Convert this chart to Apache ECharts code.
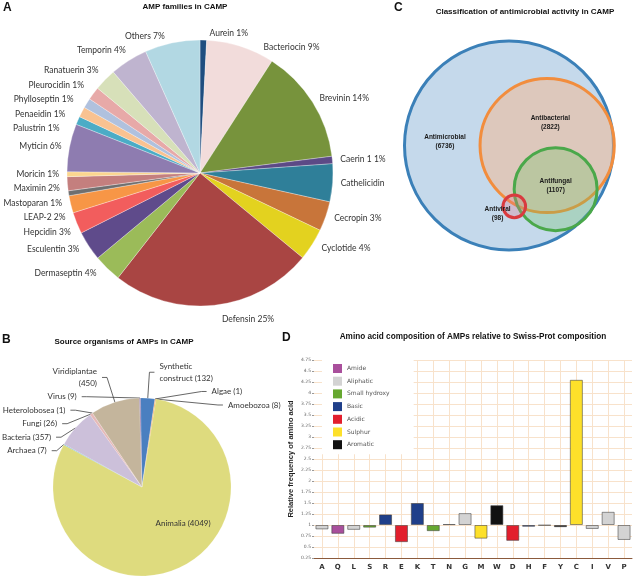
<!DOCTYPE html>
<html><head><meta charset="utf-8">
<script src="https://cdn.jsdelivr.net/npm/echarts@6/dist/echarts.min.js"></script>
<style>html,body{margin:0;padding:0;background:#fff}#c{width:640px;height:579px}</style>
</head><body><div id="c"></div><script>
// ---------- Panel A: AMP families ----------
const famNames = ['Aurein','Bacteriocin','Brevinin','Caerin 1','Cathelicidin','Cecropin','Cyclotide','Defensin','Dermaseptin','Esculentin','Hepcidin','LEAP-2','Mastoparan','Maximin','Moricin','Myticin','Palustrin','Penaeidin','Phylloseptin','Pleurocidin','Ranatuerin','Temporin','Others'];
const famShare = [0.8,8.3,13.9,0.9,4.6,3.6,3.9,24.6,3.4,3.6,2.6,2.1,0.6,1.7,0.6,5.8,1.0,1.25,1.2,1.6,2.7,4.6,6.7];
const famPctLabel = ['1%','9%','14%','1%','','3%','4%','25%','4%','3%','3%','2%','1%','2%','1%','6%','1%','1%','1%','1%','3%','4%','7%'];
// ---------- Panel B: source organisms ----------
const orgNames = ['Synthetic construct','Algae','Amoebozoa','Animalia','Archaea','Bacteria','Fungi','Heterolobosea','Viridiplantae','Virus'];
const orgCounts = [132,1,8,4049,7,357,26,1,450,9];
// ---------- Panel C: activity classes ----------
const actNames = ['Antimicrobial','Antibacterial','Antifungal','Antiviral'];
const actCounts = [6736,2822,1107,98];
// ---------- Panel D: amino acid composition ----------
const aaNames = ['A','Q','L','S','R','E','K','T','N','G','M','W','D','H','F','Y','C','I','V','P'];
const aaRelFreq = [0.9,0.8,0.89,0.94,1.24,0.61,1.5,0.86,1.02,1.27,0.69,1.45,0.64,0.96,0.99,0.95,4.3,0.91,1.3,0.66];
const aaClassOf = ['Aliphatic','Amide','Aliphatic','Small hydroxy','Basic','Acidic','Basic','Small hydroxy','Amide','Aliphatic','Sulphur','Aromatic','Acidic','Basic','Aromatic','Aromatic','Sulphur','Aliphatic','Aliphatic','Aliphatic'];
const aaClassNames = ['Amide','Aliphatic','Small hydroxy','Basic','Acidic','Sulphur','Aromatic'];
const yMin = 0.25, yMax = 4.75, yStep = 0.25, baseline = 1;

// ---------- styles / layout ----------
const famColors = ['#1f4e80','#f2dcdb','#77933c','#5c4a86','#2f7f99','#c8753a','#e3d21f','#a94543','#9bbb59','#5f4b8b','#f25d5d','#f79646','#6f6f6f','#c47f7e','#fbd68f','#8e7cb0','#4bacc6','#f9c291','#b0c1de','#e7a9a8','#d7e0b9','#bfb4cf','#b2d8e3'];
const famLabelLen = {Palustrin:14, Penaeidin:14, Phylloseptin:14, Pleurocidin:14, Ranatuerin:14, Temporin:14, Defensin:14};
const orgColors = ['#4a7fc0','#9bbb59','#f79646','#dedb7e','#4bacc6','#ccc0da','#e6b9b8','#c0504d','#c4b59c','#8064a2'];
const orgLabelLen = {'Synthetic construct':26, 'Algae':26, 'Amoebozoa':26, 'Viridiplantae':26, 'Virus':6, 'Heterolobosea':6, 'Fungi':6, 'Bacteria':6, 'Archaea':6};
const classColors = {'Amide':'#a94f9c','Aliphatic':'#d3d3d3','Small hydroxy':'#66a830','Basic':'#1f3f8a','Acidic':'#e21f2d','Sulphur':'#fde02a','Aromatic':'#111111'};
const vennStyle = [
  {fill:'#c5d9eb', stroke:'#3b80b8'},
  {fill:'rgba(250,180,130,0.45)', stroke:'#f28d3d'},
  {fill:'rgba(110,195,100,0.3)', stroke:'#4aa84a'},
  {fill:'rgba(230,120,140,0.3)', stroke:'#d93a3f'}
];
const vennLayout = {center:[[0,0],[0.36,0],[0.44,-0.42],[0.05,-0.585]], label:[[-0.604,0.034],[0.39,0.218],[0.44,-0.39],[-0.108,-0.654]]};

const titleFont = {fontFamily:'Liberation Sans', fontWeight:'bold', fontSize:8, color:'#111'};
const titleFontD = {fontFamily:'Liberation Sans', fontWeight:'bold', fontSize:8.2, color:'#111'};
const letterFont = {fontFamily:'Liberation Sans', fontWeight:'bold', fontSize:12, color:'#111'};

const chart = echarts.init(document.getElementById('c'), null, {renderer:'canvas'});

const classSeries = aaClassNames.map(cls => ({
  type:'bar', name:cls, stack:'aa', xAxisIndex:0, yAxisIndex:0,
  data: aaRelFreq.map((v,i) => aaClassOf[i] === cls ? Math.abs(v - baseline) : '-'),
  itemStyle:{color:classColors[cls], borderColor:'rgba(60,60,60,0.55)', borderWidth:1},
  barCategoryGap:'18%'
}));

const option = {
  animation:false,
  backgroundColor:'#fff',
  title:[
    {text:'A', left:3, top:2, padding:0, textStyle:letterFont},
    {text:'AMP families in CAMP', left:185, top:3, padding:0, textAlign:'center', textStyle:titleFont},
    {text:'C', left:394, top:2, padding:0, textStyle:letterFont},
    {text:'Classification of antimicrobial activity in CAMP', left:525, top:8, padding:0, textAlign:'center', textStyle:titleFont},
    {text:'B', left:2, top:334, padding:0, textStyle:letterFont},
    {text:'Source organisms of AMPs in CAMP', left:124, top:338, padding:0, textAlign:'center', textStyle:titleFont},
    {text:'D', left:282, top:332, padding:0, textStyle:letterFont},
    {text:'Amino acid composition of AMPs relative to Swiss-Prot composition', left:473, top:333, padding:0, textAlign:'center', textStyle:titleFontD}
  ],
  legend:{
    data:aaClassNames, orient:'vertical', left:322, top:360, icon:'rect',
    itemWidth:9, itemHeight:9, itemGap:3.7, backgroundColor:'#fff', padding:[4,24,5,11],
    itemStyle:{borderWidth:0},
    textStyle:{fontSize:6, color:'#555', fontFamily:'DejaVu Sans'}
  },
  grid:[
    {left:314, top:360, width:318, height:198},
    {left:403, top:41.5, width:212, height:208}
  ],
  xAxis:[
    {type:'category', gridIndex:0, data:aaNames,
     axisLine:{lineStyle:{color:'#8b5a3c', width:1}},
     axisTick:{show:true, alignWithLabel:true, inside:true, length:198, lineStyle:{color:'#f8e2cb', width:1}},
     axisLabel:{fontSize:7, fontWeight:'bold', color:'#333', fontFamily:'DejaVu Sans', margin:6},
     splitLine:{show:false}},
    {type:'value', gridIndex:1, min:-1, max:1, show:false}
  ],
  yAxis:[
    {type:'value', gridIndex:0, min:yMin, max:yMax, interval:yStep,
     name:'Relative frequency of amino acid', nameLocation:'middle', nameRotate:90, nameGap:19,
     nameTextStyle:{fontSize:7.5, fontWeight:'bold', color:'#222', fontFamily:'Liberation Sans'},
     axisLine:{show:false},
     axisTick:{show:true, length:2, lineStyle:{color:'#999'}},
     axisLabel:{fontSize:4.5, color:'#666', fontFamily:'DejaVu Sans', margin:3},
     splitLine:{show:true, lineStyle:{color:'#f8e2cb', width:1}}},
    {type:'value', gridIndex:1, min:-1, max:1, show:false}
  ],
  series:[
    {
      type:'pie', name:'families', center:[200,173], radius:133, startAngle:90, clockwise:true,
      avoidLabelOverlap:true,
      data:famNames.map((n,i)=>({name:n, value:famShare[i], itemStyle:{color:famColors[i]},
        labelLine: famLabelLen[n] ? {show:false, length:famLabelLen[n], length2:1} : undefined})),
      itemStyle:{borderColor:'rgba(255,255,255,0.6)', borderWidth:0.5},
      label:{show:true, position:'outside', fontSize:8.5, color:'#333', fontFamily:'Lato', lineHeight:12.5, overflow:'none',
        formatter:p => famPctLabel[p.dataIndex] ? p.name + ' ' + famPctLabel[p.dataIndex] : p.name},
      labelLine:{show:false, length:7, length2:1},
      emphasis:{disabled:true}
    },
    {
      type:'pie', name:'organisms', center:[142,487], radius:89, startAngle:91, clockwise:true,
      avoidLabelOverlap:true,
      data:orgNames.map((n,i)=>({name:n, value:orgCounts[i], itemStyle:{color:orgColors[i]},
        label: n === 'Animalia' ? {position:'inside', offset:[20,-6]} : undefined,
        labelLine: n === 'Animalia' ? {show:false} : {show:true, length:orgLabelLen[n], length2:5}})),
      itemStyle:{borderColor:'rgba(255,255,255,0.5)', borderWidth:0.3},
      label:{show:true, position:'outside', fontSize:8, color:'#333', fontFamily:'Lato', lineHeight:11.5, overflow:'none',
        formatter:p => {
          if (p.name === 'Viridiplantae') return p.name + '\n(' + p.value + ')';
          if (p.name === 'Synthetic construct') return 'Synthetic\nconstruct (' + p.value + ')';
          return p.name + ' (' + p.value + ')';
        }},
      labelLine:{show:true, length:10, length2:5, lineStyle:{color:'#404040', width:0.8}},
      emphasis:{disabled:true}
    },
    {
      type:'custom', name:'venn', xAxisIndex:1, yAxisIndex:1, silent:true,
      data:actNames.map((n,i)=>[vennLayout.center[i][0], vennLayout.center[i][1], Math.sqrt(actCounts[i]/actCounts[0]), i]),
      renderItem:(params, api) => {
        const i = api.value(3);
        const c = api.coord([api.value(0), api.value(1)]);
        const r = api.size([api.value(2), 0])[0];
        return {type:'circle', shape:{cx:c[0], cy:c[1], r:r-1.5},
          style:{fill:vennStyle[i].fill, stroke:vennStyle[i].stroke, lineWidth:3}};
      }
    },
    {
      type:'custom', name:'vennLabels', xAxisIndex:1, yAxisIndex:1, silent:true, z:5,
      data:actNames.map((n,i)=>[vennLayout.label[i][0], vennLayout.label[i][1], i]),
      renderItem:(params, api) => {
        const i = api.value(2);
        const c = api.coord([api.value(0), api.value(1)]);
        return {type:'text', x:c[0], y:c[1],
          style:{text:actNames[i] + '\n(' + actCounts[i] + ')', align:'center', verticalAlign:'middle',
            fontSize:6.5, fontWeight:'bold', fontFamily:'Liberation Sans', fill:'#1a1a1a', lineHeight:9}};
      }
    },
    {
      type:'bar', name:'base', stack:'aa', xAxisIndex:0, yAxisIndex:0, silent:true,
      data:aaRelFreq.map(v => Math.min(v, baseline)),
      itemStyle:{color:'rgba(0,0,0,0)', borderWidth:0},
      barCategoryGap:'18%'
    },
    ...classSeries
  ]
};
chart.setOption(option);
</script></body></html>
